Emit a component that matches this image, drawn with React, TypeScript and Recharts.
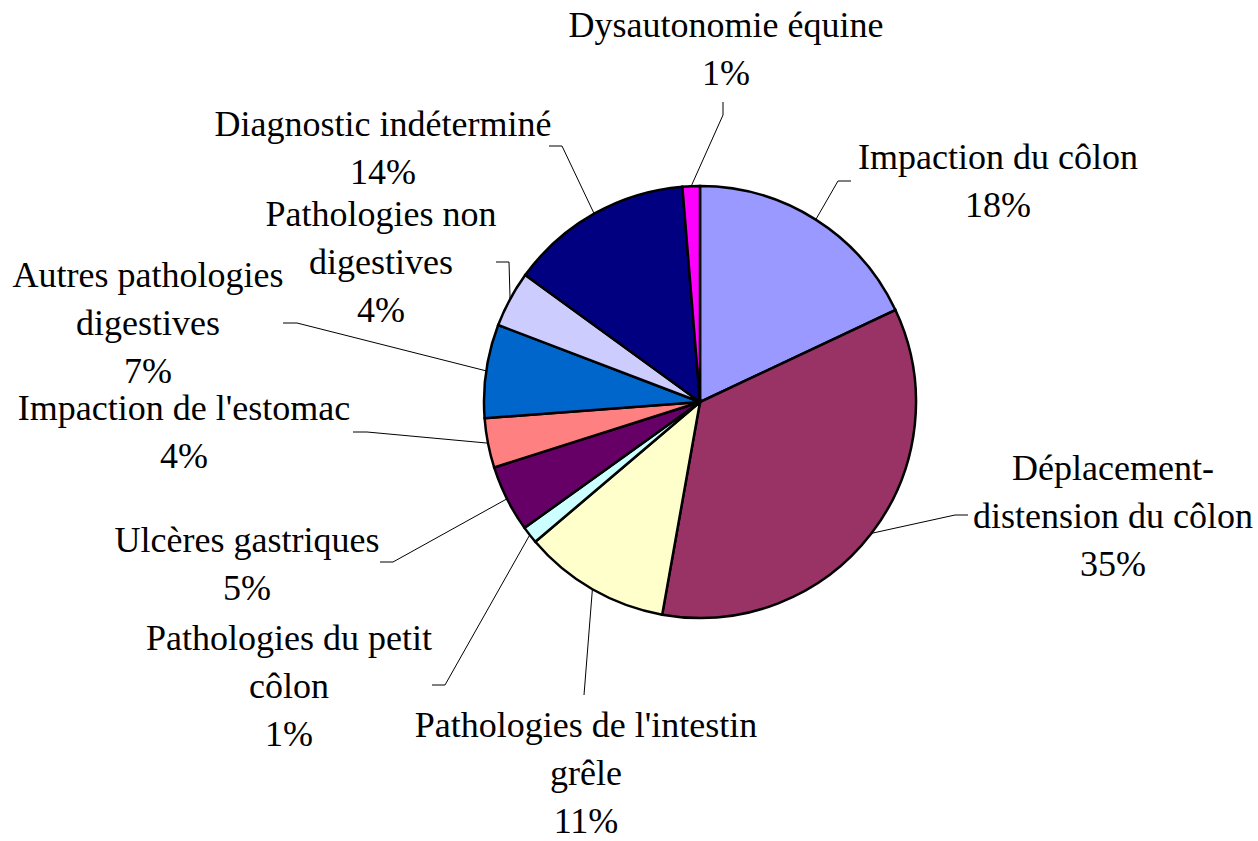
import React from "react";
import { PieChart, Pie, Cell } from "recharts";

// categories, clockwise from 12 o'clock ("\n" = line break in the label)
const categories = [
  "Impaction du côlon",
  "Déplacement-\ndistension du côlon",
  "Pathologies de l'intestin\ngrêle",
  "Pathologies du petit\ncôlon",
  "Ulcères gastriques",
  "Impaction de l'estomac",
  "Autres pathologies\ndigestives",
  "Pathologies non\ndigestives",
  "Diagnostic indéterminé",
  "Dysautonomie équine",
];

const values = [18, 34.8, 11, 1.3, 5, 3.7, 7, 4.2, 13.7, 1.3];

const colours = [
  "#9999FF",
  "#993366",
  "#FFFFCC",
  "#CCFFFF",
  "#660066",
  "#FF8080",
  "#0066CC",
  "#CCCCFF",
  "#000080",
  "#FF00FF",
];

// where each label sits: text centre x, first baseline y, leader elbow and end
const labelLayout = [
  { x: 998, y: 169, elbow: [838, 181], end: [851, 181] },
  { x: 1113, y: 480, elbow: [955, 515], end: [968, 515] },
  { x: 586, y: 737, elbow: [584, 695], end: [584, 695] },
  { x: 289, y: 650, elbow: [445, 685], end: [432, 685] },
  { x: 247, y: 552, elbow: [393, 562], end: [380, 562] },
  { x: 184, y: 420, elbow: [367, 432], end: [353, 432] },
  { x: 148, y: 287, elbow: [297, 323], end: [283, 323] },
  { x: 381, y: 226, elbow: [509, 262], end: [496, 262] },
  { x: 383, y: 136, elbow: [562, 146], end: [549, 146] },
  { x: 726, y: 37, elbow: [723, 115], end: [723, 102] },
];

const data = categories.map((name, i) => ({ name, value: values[i] }));

const RAD = Math.PI / 180;
const LINE_H = 48;

function renderLabel(props: any) {
  const { cx, cy, midAngle, outerRadius, percent, index } = props;
  const lay = labelLayout[index];
  const sx = cx + outerRadius * Math.cos(-midAngle * RAD);
  const sy = cy + outerRadius * Math.sin(-midAngle * RAD);
  const lines = [...categories[index].split("\n"), `${Math.round(percent * 100)}%`];
  return (
    <g key={`lbl-${index}`}>
      <polyline
        points={`${sx},${sy} ${lay.elbow[0]},${lay.elbow[1]} ${lay.end[0]},${lay.end[1]}`}
        fill="none"
        stroke="#000"
        strokeWidth={1}
      />
      {lines.map((l, i) => (
        <text
          key={i}
          x={lay.x}
          y={lay.y + i * LINE_H}
          textAnchor="middle"
          fontFamily="Liberation Serif"
          fontSize={36}
          fill="#000"
        >
          {l}
        </text>
      ))}
    </g>
  );
}

export default function App() {
  return (
    <div style={{ position: "absolute", left: 0, top: 0, background: "#fff" }}>
      <PieChart width={1258} height={841} margin={{ top: 0, right: 0, bottom: 0, left: 0 }}>
        <Pie
          data={data}
          dataKey="value"
          nameKey="name"
          cx={700}
          cy={402}
          outerRadius={216}
          startAngle={90}
          endAngle={-270}
          stroke="#000"
          strokeWidth={2.5}
          label={renderLabel}
          labelLine={false}
          isAnimationActive={false}
        >
          {data.map((d, i) => (
            <Cell key={d.name} fill={colours[i]} />
          ))}
        </Pie>
      </PieChart>
    </div>
  );
}
